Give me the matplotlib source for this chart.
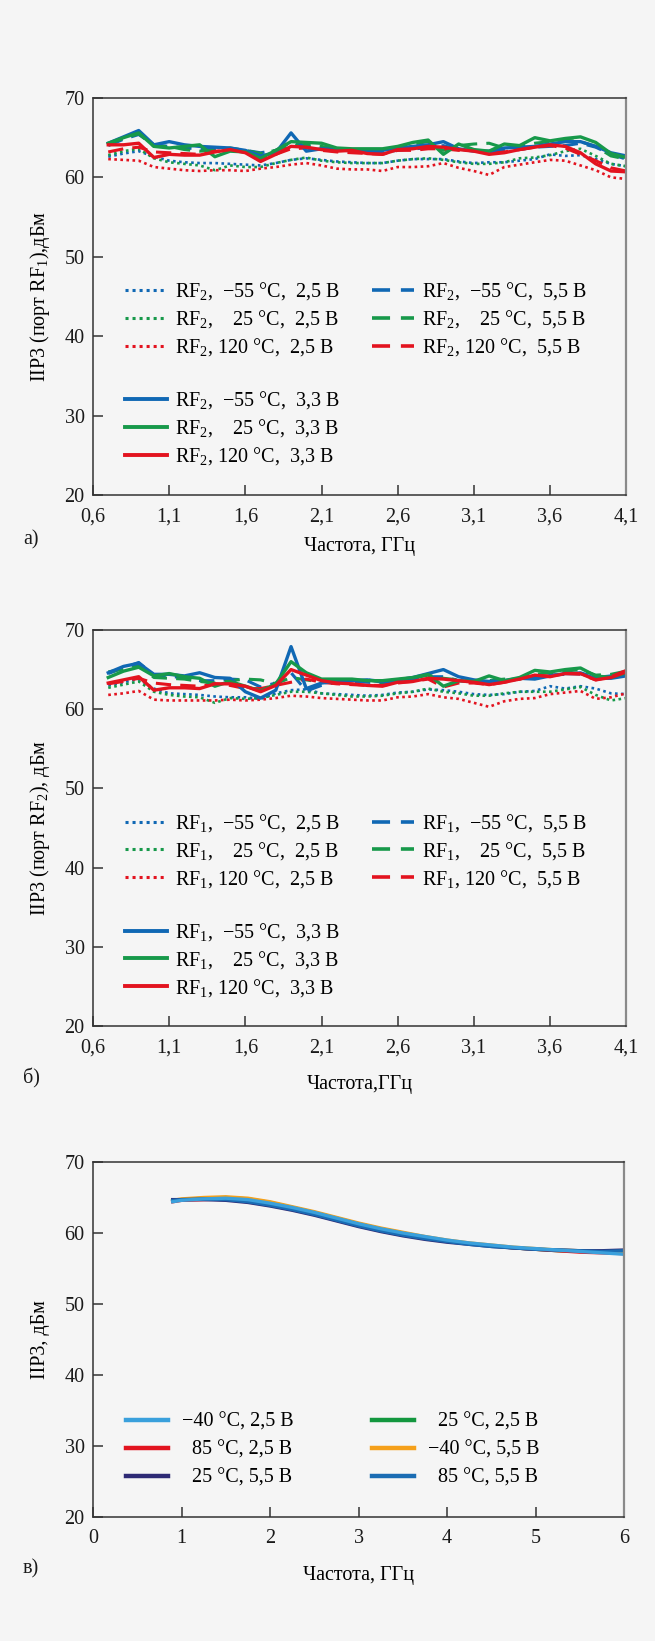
import numpy as np
import matplotlib
matplotlib.use("Agg")
import matplotlib.pyplot as plt
from matplotlib.lines import Line2D

plt.rcParams['font.family'] = ['Liberation Serif', 'DejaVu Serif']
plt.rcParams['mathtext.fontset'] = 'custom'
plt.rcParams['mathtext.rm'] = 'Liberation Serif'
plt.rcParams['mathtext.it'] = 'Liberation Serif:italic'
plt.rcParams['mathtext.bf'] = 'Liberation Serif:bold'
FS = 14.5
plt.rcParams['font.size'] = FS

BG = '#f5f5f5'
BLUE = '#1068b4'
GREEN = '#17994a'
RED = '#e3131f'

# ---- frequency grid for panels a and b (GHz) ----
freq = [0.7, 0.8, 0.9, 1.0, 1.1, 1.2, 1.3, 1.4, 1.5, 1.6, 1.7, 1.8, 1.9, 2.0,
        2.1, 2.2, 2.3, 2.4, 2.5, 2.6, 2.7, 2.8, 2.9, 3.0, 3.1, 3.2, 3.3, 3.4,
        3.5, 3.6, 3.7, 3.8, 3.9, 4.0, 4.1]

# ---- panel a: IIP3 at port RF1 ----
a_m55_25 = [62.6, 63.0, 63.3, 62.6, 62.1, 61.9, 61.8, 61.8, 61.7, 61.6, 61.5, 61.8, 62.2, 62.4,
            62.2, 62.0, 61.9, 61.8, 61.8, 62.1, 62.3, 62.3, 62.3, 62.0, 61.8, 61.9, 61.9, 62.1,
            62.3, 62.9, 62.7, 62.8, 62.3, 61.7, 61.4]
a_25_25 = [62.8, 63.3, 63.6, 62.4, 61.9, 61.7, 61.5, 60.9, 61.5, 61.3, 61.3, 61.8, 62.2, 62.5,
           62.1, 61.9, 61.8, 61.8, 61.8, 62.1, 62.3, 62.4, 62.2, 61.9, 61.7, 61.7, 61.9, 62.4,
           62.5, 62.8, 63.3, 63.6, 62.7, 61.7, 61.4]
a_120_25 = [62.3, 62.2, 62.1, 61.3, 61.1, 60.9, 60.8, 60.9, 60.9, 60.8, 61.1, 61.3, 61.6, 61.8,
            61.5, 61.1, 61.0, 61.0, 60.8, 61.3, 61.3, 61.4, 61.8, 61.2, 60.8, 60.3, 61.3, 61.6,
            61.9, 62.2, 62.1, 61.5, 60.9, 60.0, 59.8]
a_m55_55 = [64.0, 64.8, 65.4, 64.1, 63.9, 63.7, 63.6, 63.5, 63.6, 63.4, 63.1, 63.4, 64.4, 63.9,
            63.7, 63.5, 63.3, 63.2, 63.2, 63.4, 63.6, 63.7, 64.0, 63.5, 63.4, 63.2, 63.5, 63.5,
            63.8, 63.9, 64.0, 64.3, 63.8, 62.9, 62.3]
a_25_55 = [64.2, 64.9, 65.5, 63.9, 63.9, 63.5, 63.3, 63.4, 63.7, 63.4, 63.0, 63.4, 64.0, 64.1,
           63.9, 63.5, 63.4, 63.5, 63.4, 63.7, 64.2, 64.5, 63.4, 64.0, 64.2, 64.3, 63.7, 63.9,
           64.3, 64.5, 64.7, 64.5, 63.9, 62.7, 62.3]
a_120_55 = [63.2, 63.6, 63.8, 63.2, 63.1, 63.0, 62.9, 63.3, 63.4, 63.2, 62.3, 62.9, 63.6, 63.7,
            63.4, 63.2, 63.1, 63.0, 62.9, 63.4, 63.4, 63.6, 63.6, 63.4, 63.4, 63.0, 63.2, 63.5,
            63.8, 64.0, 63.7, 62.9, 62.1, 61.2, 60.8]
a_m55_33 = [64.3, 65.1, 65.9, 64.1, 64.5, 64.1, 63.9, 63.8, 63.7, 63.4, 62.7, 63.1, 65.6, 63.3,
            63.6, 63.5, 63.5, 63.3, 63.4, 63.7, 63.9, 64.1, 64.5, 63.6, 63.3, 63.3, 63.7, 63.8,
            63.9, 64.2, 64.5, 64.5, 63.9, 63.1, 62.7]
a_25_33 = [64.3, 65.0, 65.6, 63.9, 63.7, 63.9, 64.1, 62.6, 63.3, 63.2, 62.4, 63.4, 64.5, 64.4,
           64.3, 63.7, 63.6, 63.6, 63.6, 63.9, 64.4, 64.7, 62.9, 64.2, 63.5, 63.3, 64.2, 64.0,
           65.0, 64.6, 64.9, 65.1, 64.4, 63.0, 62.5]
a_120_33 = [64.1, 64.1, 64.3, 62.5, 62.9, 62.8, 62.8, 63.2, 63.5, 63.1, 62.0, 62.9, 63.9, 63.8,
            63.5, 63.3, 63.4, 63.0, 62.9, 63.5, 63.6, 63.9, 63.8, 63.5, 63.3, 62.9, 63.1, 63.5,
            63.8, 64.1, 63.9, 63.1, 61.7, 60.8, 60.7]

# ---- panel b: IIP3 at port RF2 ----
b_m55_25 = [63.0, 63.4, 63.8, 62.6, 62.0, 61.9, 61.8, 61.6, 61.5, 61.5, 61.3, 62.0, 62.4, 62.5,
            62.0, 61.9, 61.8, 61.7, 61.8, 62.1, 62.2, 62.5, 62.4, 62.2, 61.9, 61.8, 61.9, 62.2,
            62.3, 62.9, 62.6, 62.9, 62.6, 62.0, 61.9]
b_25_25 = [62.7, 63.1, 63.5, 62.2, 61.8, 61.6, 61.5, 60.8, 61.4, 61.3, 61.4, 61.8, 62.2, 62.2,
           62.0, 61.8, 61.6, 61.6, 61.7, 62.0, 62.2, 62.6, 62.2, 62.0, 61.7, 61.7, 62.0, 62.2,
           62.2, 62.2, 62.5, 62.8, 61.8, 61.1, 61.4]
b_120_25 = [61.8, 62.0, 62.3, 61.2, 61.1, 61.1, 61.1, 61.1, 61.2, 61.1, 61.2, 61.4, 61.7, 61.6,
            61.4, 61.3, 61.2, 61.1, 61.1, 61.5, 61.6, 61.9, 61.5, 61.3, 60.8, 60.3, 61.0, 61.3,
            61.4, 61.9, 62.1, 62.3, 61.3, 61.5, 62.0]
b_m55_55 = [64.5, 65.2, 65.9, 64.3, 64.2, 63.9, 63.6, 63.6, 63.8, 63.7, 62.8, 63.3, 64.6, 62.3,
            63.0, 63.4, 63.5, 63.4, 63.3, 63.5, 63.8, 64.1, 64.1, 63.6, 63.4, 63.2, 63.5, 63.8,
            64.0, 64.3, 64.4, 64.6, 64.0, 64.2, 64.5]
b_25_55 = [64.7, 65.1, 65.6, 64.0, 63.9, 63.8, 63.5, 63.3, 63.6, 63.8, 63.7, 63.2, 64.0, 63.7,
           63.4, 63.5, 63.6, 63.7, 63.4, 63.7, 63.9, 64.3, 63.9, 63.7, 63.6, 63.6, 63.8, 63.8,
           64.4, 64.6, 64.8, 65.0, 64.3, 64.4, 64.8]
b_120_55 = [63.2, 63.5, 63.9, 63.3, 63.1, 63.0, 62.9, 63.2, 63.0, 62.6, 62.6, 63.0, 63.4, 63.8,
            63.4, 63.2, 63.1, 63.0, 63.0, 63.3, 63.5, 63.8, 62.8, 63.3, 63.3, 63.1, 63.4, 63.8,
            64.2, 64.2, 64.5, 64.4, 63.7, 64.1, 64.9]
b_m55_33 = [64.6, 65.4, 65.8, 64.4, 64.4, 64.2, 64.6, 64.0, 63.9, 62.2, 61.4, 62.4, 67.9, 62.6,
            63.3, 63.5, 63.6, 63.7, 63.5, 63.7, 64.0, 64.5, 65.0, 64.1, 63.7, 63.5, 63.6, 63.9,
            63.8, 64.2, 64.5, 64.5, 63.9, 63.9, 64.2]
b_25_33 = [64.0, 64.8, 65.3, 64.2, 64.5, 64.1, 63.9, 62.9, 63.5, 62.9, 62.3, 63.2, 66.0, 64.6,
           63.8, 63.8, 63.8, 63.6, 63.6, 63.8, 64.0, 64.4, 62.9, 63.6, 63.5, 64.2, 63.6, 64.0,
           64.9, 64.7, 65.0, 65.2, 64.2, 64.0, 64.6]
b_120_33 = [63.3, 63.7, 64.1, 62.4, 62.7, 62.7, 62.6, 63.2, 63.2, 62.9, 62.2, 63.0, 65.0, 64.3,
            63.6, 63.3, 63.2, 63.0, 62.9, 63.4, 63.5, 63.9, 63.8, 63.6, 63.4, 63.1, 63.4, 63.8,
            64.3, 64.1, 64.5, 64.5, 63.7, 64.0, 64.7]

# ---- panel c ----
freq_c = [0.9, 1.0, 1.25, 1.5, 1.75, 2.0, 2.25, 2.5, 2.75, 3.0, 3.25, 3.5, 3.75, 4.0,
          4.25, 4.5, 4.75, 5.0, 5.25, 5.5, 5.75, 6.0]
c_m40_25 = [64.4, 64.6, 64.8, 64.9, 64.7, 64.2, 63.6, 62.9, 62.1, 61.3, 60.6, 60.0, 59.5, 59.0,
            58.6, 58.3, 58.0, 57.8, 57.6, 57.4, 57.2, 57.0]
c_25_25 = [64.5, 64.7, 64.9, 65.0, 64.8, 64.3, 63.6, 62.9, 62.1, 61.3, 60.6, 60.0, 59.4, 58.9,
           58.5, 58.2, 57.9, 57.7, 57.5, 57.4, 57.3, 57.2]
c_85_25 = [64.4, 64.6, 64.7, 64.8, 64.6, 64.1, 63.5, 62.8, 62.0, 61.2, 60.5, 59.9, 59.4, 58.9,
           58.5, 58.2, 57.9, 57.7, 57.5, 57.3, 57.2, 57.1]
c_m40_55 = [64.6, 64.8, 65.0, 65.1, 64.9, 64.4, 63.7, 63.0, 62.2, 61.4, 60.7, 60.1, 59.5, 59.0,
            58.6, 58.3, 58.0, 57.8, 57.6, 57.5, 57.4, 57.3]
c_25_55 = [64.7, 64.7, 64.7, 64.6, 64.3, 63.8, 63.2, 62.5, 61.7, 60.9, 60.2, 59.6, 59.1, 58.7,
           58.4, 58.1, 57.9, 57.7, 57.6, 57.5, 57.5, 57.6]
c_85_55 = [64.6, 64.7, 64.8, 64.7, 64.4, 63.9, 63.3, 62.6, 61.8, 61.0, 60.3, 59.7, 59.2, 58.8,
           58.4, 58.1, 57.9, 57.7, 57.6, 57.5, 57.4, 57.5]

yticks = [20, 30, 40, 50, 60, 70]
xticks_ab = [0.6, 1.1, 1.6, 2.1, 2.6, 3.1, 3.6, 4.1]
xticklabels_ab = ['0,6', '1,1', '1,6', '2,1', '2,6', '3,1', '3,6', '4,1']
xticks_c = [0, 1, 2, 3, 4, 5, 6]

temps_ab = ['\u221255 \u00b0C', '25 \u00b0C', '120 \u00b0C']
temp_pad = ['  ', '    ', ' ']
colors_ab = [BLUE, GREEN, RED]

DOT = (0, (1, 1.3))
DASH = (0, (5, 3))


def style_axes(ax):
    ax.set_facecolor(BG)
    ax.set_ylim(20, 70)
    ax.set_yticks(yticks)
    for s in ['left', 'bottom', 'top']:
        ax.spines[s].set_color('#333333')
        ax.spines[s].set_linewidth(1.1)
    ax.spines['right'].set_color('#8a8a8a')
    ax.spines['right'].set_linewidth(1.6)
    ax.tick_params(direction='in', length=7, width=1.1, color='#333333',
                   labelsize=FS, labelcolor='#1a1a1a')
    ax.tick_params(axis='y', pad=6)
    ax.tick_params(axis='x', pad=9)


def panel_ab(ax, port, series, ylabel, xlabel, xpad):
    dotted, dashed, solid = series
    for ys, c in zip(dotted, colors_ab):
        ax.plot(freq, ys, color=c, lw=1.9, linestyle=DOT)
    for ys, c in zip(dashed, colors_ab):
        ax.plot(freq, ys, color=c, lw=2.2, linestyle=DASH)
    for ys, c in zip(solid, colors_ab):
        ax.plot(freq, ys, color=c, lw=2.4)

    style_axes(ax)
    ax.set_xlim(0.6, 4.1)
    ax.set_xticks(xticks_ab)
    ax.set_xticklabels(xticklabels_ab)

    rf = r'RF$_\mathrm{%d}$,' % port
    h1, l1 = [], []
    for c, t, p in zip(colors_ab, temps_ab, temp_pad):
        h1.append(Line2D([], [], color=c, lw=2.2, linestyle=DOT))
        l1.append(rf + p + t + ',  2,5 \u0412')
    h1.append(Line2D([], [], color='none'))
    l1.append(' ')
    for c, t, p in zip(colors_ab, temps_ab, temp_pad):
        h1.append(Line2D([], [], color=c, lw=2.8))
        l1.append(rf + p + t + ',  3,3 \u0412')
    h2, l2 = [], []
    for c, t, p in zip(colors_ab, temps_ab, temp_pad):
        h2.append(Line2D([], [], color=c, lw=2.6, linestyle=DASH))
        l2.append(rf + p + t + ',  5,5 \u0412')

    kw = dict(loc='upper left', frameon=False, borderpad=0, borderaxespad=0,
              handlelength=2.1, handletextpad=0.4, labelspacing=0.3,
              fontsize=FS)
    leg1 = ax.legend(h1, l1, bbox_to_anchor=(0.06, 0.54), **kw)
    ax.add_artist(leg1)
    ax.legend(h2, l2, bbox_to_anchor=(0.523, 0.54), **kw)

    ax.set_ylabel(ylabel, va='center')
    ax.yaxis.set_label_coords(-0.099, 0.5)
    ax.set_xlabel(xlabel, labelpad=xpad)


fig = plt.figure(figsize=(6.55, 16.41), dpi=100, facecolor=BG)

ax_a = fig.add_axes([0.142, 0.6984, 0.814, 0.2419])
panel_ab(ax_a, 2,
         ([a_m55_25, a_25_25, a_120_25], [a_m55_55, a_25_55, a_120_55],
          [a_m55_33, a_25_33, a_120_33]),
         r'IIP3 (порт RF$_\mathrm{1}$),дБм', 'Частота, ГГц', 7.5)

ax_b = fig.add_axes([0.142, 0.3748, 0.814, 0.2413])
panel_ab(ax_b, 1,
         ([b_m55_25, b_25_25, b_120_25], [b_m55_55, b_25_55, b_120_55],
          [b_m55_33, b_25_33, b_120_33]),
         r'IIP3 (порт RF$_\mathrm{2}$), дБм', 'Частота,ГГц', 12.5)

# panel c
ax_c = fig.add_axes([0.142, 0.0756, 0.811, 0.2163])
c_series = [
    (c_25_25, '#13973f', '  25 \u00b0C, 2,5 \u0412'),
    (c_85_25, '#e2141f', '  85 \u00b0C, 2,5 \u0412'),
    (c_m40_55, '#f5a01a', '\u221240 \u00b0C, 5,5 \u0412'),
    (c_25_55, '#2e2a75', '  25 \u00b0C, 5,5 \u0412'),
    (c_85_55, '#1a6cb3', '  85 \u00b0C, 5,5 \u0412'),
    (c_m40_25, '#3aa0dc', '\u221240 \u00b0C, 2,5 \u0412'),
]
lines_c = {}
for ys, c, lab in c_series:
    lines_c[lab] = ax_c.plot(freq_c, ys, color=c, lw=2.4)[0]
style_axes(ax_c)
ax_c.set_xlim(0, 6)
ax_c.set_xticks(xticks_c)

col1 = ['\u221240 \u00b0C, 2,5 \u0412', '  85 \u00b0C, 2,5 \u0412', '  25 \u00b0C, 5,5 \u0412']
col2 = ['  25 \u00b0C, 2,5 \u0412', '\u221240 \u00b0C, 5,5 \u0412', '  85 \u00b0C, 5,5 \u0412']
kw = dict(loc='upper left', frameon=False, borderpad=0, borderaxespad=0,
          handlelength=2.1, handletextpad=0.7, labelspacing=0.44, fontsize=FS)
leg_c1 = ax_c.legend([lines_c[k] for k in col1], col1, bbox_to_anchor=(0.062, 0.294), **kw)
ax_c.add_artist(leg_c1)
ax_c.legend([lines_c[k] for k in col2], col2, bbox_to_anchor=(0.525, 0.294), **kw)
for leg in [leg_c1, ax_c.get_legend()]:
    for ln in leg.get_lines():
        ln.set_linewidth(3.2)

ax_c.set_ylabel('IIP3, дБм', va='center')
ax_c.yaxis.set_label_coords(-0.099, 0.5)
ax_c.set_xlabel('Частота, ГГц', labelpad=12.5)

# panel letters
for y_px, letter in [(540, 'а)'), (1078, 'б)'), (1569, 'в)')]:
    fig.text(23 / 655, 1 - y_px / 1641, letter, fontsize=FS, va='center', ha='left',
             color='#1a1a1a')

fig.savefig('out.png', dpi=100, facecolor=BG)
